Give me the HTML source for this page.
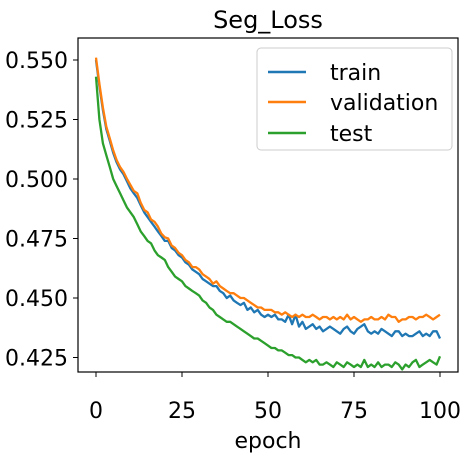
<!DOCTYPE html>
<html><head><meta charset="utf-8"><style>
body{margin:0;background:#fff;}
svg{display:block;font-family:"DejaVu Sans","Liberation Sans",sans-serif;}
</style></head><body>
<svg id="chart" width="468" height="460">
<text x="268" y="28" font-size="24" text-anchor="middle">Seg_Loss</text>
<rect x="78" y="38" width="380" height="334" fill="none" stroke="#000" stroke-width="1.2"/>
<g id="ticks"></g>
<g id="series"></g>
<text x="268" y="448" font-size="22" text-anchor="middle">epoch</text>
<g>
<rect x="257" y="48" width="195" height="102" rx="4" fill="#fff" fill-opacity="0.8" stroke="#ccc"/>
<line x1="268" y1="72" x2="306" y2="72" stroke="#1f77b4" stroke-width="2.5"/>
<text x="330" y="80" font-size="22">train</text>
<line x1="268" y1="102" x2="306" y2="102" stroke="#ff7f0e" stroke-width="2.5"/>
<text x="330" y="110" font-size="22">validation</text>
<line x1="268" y1="133" x2="306" y2="133" stroke="#2ca02c" stroke-width="2.5"/>
<text x="330" y="141" font-size="22">test</text>
</g>
</svg>
<script>
const xTicks=[0,25,50,75,100];
const yTicks=[0.425,0.450,0.475,0.500,0.525,0.550];
const validation=[.551,.540,.530,.522,.517,.512,.508,.505,.503,.500,
.4975,.495,.494,.490,.487,.486,.483,.482,.480,.477,
.4755,.475,.472,.471,.469,.468,.466,.465,.463,.463,
.462,.460,.459,.458,.456,.457,.455,.454,.453,.452,
.452,.451,.450,.450,.449,.448,.447,.446,.446,.445,
.445,.445,.444,.444,.443,.444,.443,.442,.443,.442,
.443,.442,.442,.443,.442,.441,.442,.442,.441,.442,
.441,.442,.441,.443,.441,.442,.441,.440,.441,.441,
.442,.441,.441,.442,.441,.443,.442,.442,.440,.441,
.441,.442,.442,.441,.442,.442,.443,.442,.441,.442,.443];
const train=[.550,.539,.529,.521,.516,.511,.507,.504,.502,.499,
.496,.494,.492,.489,.486,.484,.482,.480,.478,.476,
.474,.474,.471,.470,.468,.467,.465,.464,.462,.461,
.460,.458,.457,.456,.455,.455,.453,.452,.450,.451,
.449,.448,.447,.448,.445,.446,.444,.445,.443,.442,
.443,.442,.443,.441,.441,.440,.443,.439,.443,.438,
.440,.437,.438,.439,.437,.438,.436,.437,.438,.437,
.436,.435,.437,.438,.436,.435,.437,.438,.439,.436,
.435,.436,.435,.437,.436,.435,.434,.436,.436,.434,
.435,.434,.434,.435,.436,.434,.435,.434,.436,.436,.433];
const test=[.543,.525,.515,.510,.505,.500,.497,.494,.491,.488,
.486,.484,.481,.478,.476,.474,.473,.470,.468,.467,
.466,.463,.461,.459,.458,.457,.455,.454,.453,.452,
.451,.449,.448,.446,.445,.443,.442,.441,.440,.440,
.439,.438,.437,.436,.435,.434,.433,.433,.432,.431,
.430,.429,.429,.428,.428,.427,.426,.426,.425,.425,
.424,.423,.424,.423,.424,.422,.422,.423,.422,.421,
.423,.422,.421,.423,.422,.421,.422,.421,.424,.421,
.422,.421,.423,.421,.422,.422,.421,.423,.422,.420,
.422,.421,.423,.424,.421,.422,.423,.424,.423,.422,.4255];
const NS="http://www.w3.org/2000/svg";
function xs(e){return 96+e*3.44;}
function ys(v){return 60+(0.550-v)/0.025*59.5;}
const tg=document.getElementById('ticks');
xTicks.forEach(t=>{
 const l=document.createElementNS(NS,'line');
 l.setAttribute('x1',xs(t));l.setAttribute('x2',xs(t));l.setAttribute('y1',372);l.setAttribute('y2',377);l.setAttribute('stroke','#000');
 
 
 tg.appendChild(l);
 const tx=document.createElementNS(NS,'text');
 tx.setAttribute('x',xs(t));tx.setAttribute('y',418);tx.setAttribute('font-size','22');tx.setAttribute('text-anchor','middle');
 tx.textContent=t;
 
 
 tg.appendChild(tx);
});
yTicks.forEach(t=>{
 const l=document.createElementNS(NS,'line');
 l.setAttribute('x1',73);l.setAttribute('x2',78);l.setAttribute('y1',ys(t));l.setAttribute('y2',ys(t));l.setAttribute('stroke','#000');
 
 
 tg.appendChild(l);
 const tx=document.createElementNS(NS,'text');
 tx.setAttribute('x',68);tx.setAttribute('y',ys(t)+8);tx.setAttribute('font-size','22');tx.setAttribute('text-anchor','end');
 tx.textContent=t.toFixed(3);
 
 
 tg.appendChild(tx);
});
const sg=document.getElementById('series');
[[train,'#1f77b4','train-line'],[validation,'#ff7f0e','validation-line'],[test,'#2ca02c','test-line']].forEach(([d,c,n])=>{
 const p=document.createElementNS(NS,'polyline');
 p.setAttribute('points',d.map((v,i)=>xs(i).toFixed(1)+','+ys(v).toFixed(1)).join(' '));
 p.setAttribute('fill','none');p.setAttribute('stroke',c);p.setAttribute('stroke-width','2.3');p.setAttribute('stroke-linejoin','round');
 
 
 sg.appendChild(p);
});
</script>
</body></html>
